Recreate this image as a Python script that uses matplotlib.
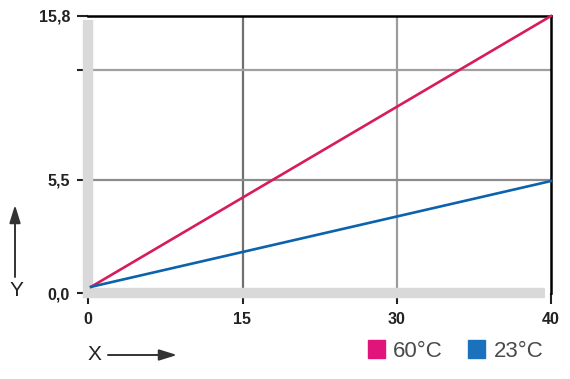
import matplotlib
matplotlib.use('Agg')

import numpy as np
import matplotlib.pyplot as plt
from matplotlib.patches import Patch, FancyArrowPatch

plt.rcParams['font.family'] = ['Liberation Sans', 'DejaVu Sans']

#### ==================  data
x_ticks   = [0, 15, 30, 40]
x_labels  = ['0', '15', '30', '40']
y_ticks   = [0.0, 5.5, 12.4, 15.8]
y_labels  = ['0,0', '5,5', '', '15,8']

x_60 = [0.3, 40.0]
y_60 = [0.3, 15.8]
x_23 = [0.3, 40.0]
y_23 = [0.3, 5.45]

series_labels = ['60°C', '23°C']

#### ==================  style
red   = '#d81b5e'
blue  = '#0b62ad'
band  = '#d9d9d9'
x_grid_cols = ['#8c8c8c', '#707070', '#9c9c9c', 'black']
y_grid_cols = ['#8c8c8c', '#8c8c8c', '#a0a0a0', 'black']

# the drawing is schematic: axes are piecewise linear
x_knots, x_pos = [0, 30, 40], [0, 309, 463]
y_knots, y_pos = [0, 5.5, 15.8], [0, 113, 277]

def piecewise(a, b):
    a = np.asarray(a, float); b = np.asarray(b, float)
    def f(v):
        v = np.asarray(v, float)
        out = np.interp(v, a, b)
        lo = v < a[0]; hi = v > a[-1]
        out = np.where(lo, b[0] + (v - a[0]) * (b[1] - b[0]) / (a[1] - a[0]), out)
        out = np.where(hi, b[-1] + (v - a[-1]) * (b[-1] - b[-2]) / (a[-1] - a[-2]), out)
        return out
    return f

fig = plt.figure(figsize=(5.7, 3.79), dpi=100)
ax = fig.add_axes([88/570., 86/379., 463/570., 277/379.])

ax.set_xscale('function', functions=(piecewise(x_knots, x_pos), piecewise(x_pos, x_knots)))
ax.set_yscale('function', functions=(piecewise(y_knots, y_pos), piecewise(y_pos, y_knots)))
ax.set_xlim(0, 40)
ax.set_ylim(0, 15.8)

# grid
for xv, c in zip(x_ticks[1:3], x_grid_cols[1:3]):
    ax.axvline(xv, color=c, lw=1.6, zorder=1)
for yv, c in zip(y_ticks[1:3], y_grid_cols[1:3]):
    ax.axhline(yv, color=c, lw=1.6, zorder=1)

# frame
for s in ['left', 'bottom']:
    ax.spines[s].set_visible(False)
for s in ['top', 'right']:
    ax.spines[s].set_color('black')
    ax.spines[s].set_linewidth(1.8)

ax.axvline(0, ymin=-0.018, ymax=0.985, color=band, lw=7.5, zorder=3, clip_on=False, solid_capstyle='butt')
ax.axhline(0, xmin=-0.011, xmax=0.988, color=band, lw=7.5, zorder=3, clip_on=False, solid_capstyle='butt')

# lines
ax.plot(x_60, y_60, color=red, lw=1.9, zorder=4, clip_on=False)
ax.plot(x_23, y_23, color=blue, lw=1.9, zorder=4, clip_on=False)

# ticks
ax.set_xticks(x_ticks)
ax.set_xticklabels(x_labels)
ax.set_yticks(y_ticks)
ax.set_yticklabels(y_labels)
ax.minorticks_off()
ax.tick_params(axis='both', length=8, width=1.5, labelsize=11.5, colors='#222222')
ax.tick_params(axis='x', pad=6)
ax.tick_params(axis='y', pad=5)
for t, c in zip(ax.xaxis.get_major_ticks(), x_grid_cols):
    t.tick1line.set_color(c)
for t, c in zip(ax.yaxis.get_major_ticks(), y_grid_cols):
    t.tick1line.set_color(c)
for lab in ax.get_xticklabels() + ax.get_yticklabels():
    lab.set_fontweight('bold')

# axis names with arrows
fig.text(16/570., 1 - 291/379., 'Y', fontsize=15, ha='center', va='center', color='#222222')
fig.text(94/570., 1 - 355/379., 'X', fontsize=15, ha='center', va='center', color='#222222')
arrow_kw = dict(transform=fig.transFigure, arrowstyle='-|>,head_length=0.9,head_width=0.28',
                mutation_scale=12, lw=1.4, color='#333333', shrinkA=0, shrinkB=0)
fig.patches.append(FancyArrowPatch((15/570., 1 - 277/379.), (15/570., 1 - 205/379.), **arrow_kw))
fig.patches.append(FancyArrowPatch((108/570., 1 - 355/379.), (177/570., 1 - 355/379.), **arrow_kw))

# legend
handles = [Patch(color='#e0147a', label=series_labels[0]),
           Patch(color='#1a72bd', label=series_labels[1])]
fig.legend(handles=handles, ncol=2, frameon=False, loc='center right',
           bbox_to_anchor=(0.988, 1 - 351/379.), fontsize=16,
           handlelength=0.77, handleheight=0.86, handletextpad=0.36,
           columnspacing=1.15, labelcolor='#4a4a4a', borderpad=0.4)

fig.savefig('out.png', dpi=100)
